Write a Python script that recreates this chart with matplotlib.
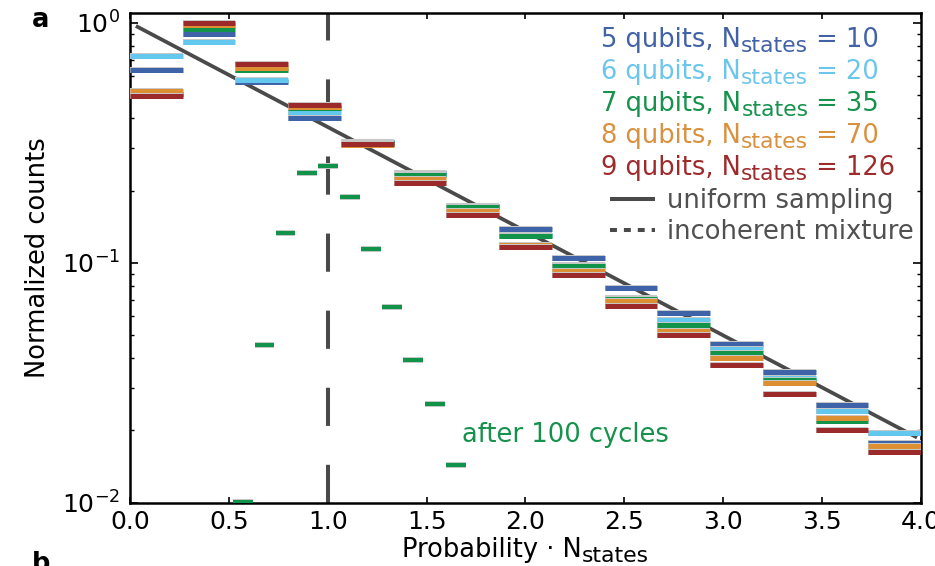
import matplotlib
matplotlib.use("Agg")
import matplotlib.pyplot as plt
import matplotlib.patheffects as pe
import matplotlib.transforms as mtransforms
from matplotlib.lines import Line2D
import numpy as np

# histogram bins (15 bins between 0 and 4)
bin_edges = np.linspace(0.0, 4.0, 16)

series_labels = ["5 qubits", "6 qubits", "7 qubits", "8 qubits", "9 qubits"]
n_states = [10, 20, 35, 70, 126]
series_colors = ["#3f63a8", "#63c7ee", "#12934a", "#dc8f33", "#9d2a2b"]
text_colors = ["#4262a6", "#6cc6ec", "#16924c", "#d8913f", "#9e2b2c"]

counts_5 = [0.636, 0.902, 0.564, 0.401, 0.318, 0.237, 0.173, 0.138, 0.105, 0.0788, 0.0616, 0.0459, 0.0351, 0.0255, 0.0178]
counts_6 = [0.726, 0.835, 0.576, 0.425, 0.317, 0.234, 0.172, 0.130, 0.098, 0.0710, 0.0580, 0.0437, 0.0330, 0.0241, 0.0195]
counts_7 = [0.505, 0.946, 0.634, 0.440, 0.315, 0.231, 0.170, 0.129, 0.0966, 0.0703, 0.0549, 0.0421, 0.0325, 0.0220, 0.0168]
counts_8 = [0.519, 0.976, 0.649, 0.445, 0.310, 0.224, 0.165, 0.119, 0.0926, 0.0692, 0.0520, 0.0401, 0.0314, 0.0226, 0.0173]
counts_9 = [0.494, 0.997, 0.676, 0.453, 0.313, 0.215, 0.158, 0.116, 0.0885, 0.0663, 0.0502, 0.0375, 0.0283, 0.0200, 0.0163]
all_counts = [counts_5, counts_6, counts_7, counts_8, counts_9]

# 7 qubits after 100 cycles
cycles_x = [0.573, 0.680, 0.787, 0.895, 1.003, 1.111, 1.218, 1.326, 1.433, 1.542, 1.650]
cycles_y = [0.0101, 0.0454, 0.1334, 0.236, 0.254, 0.188, 0.1144, 0.0655, 0.0392, 0.0258, 0.0144]
cycles_width = 0.1

# uniform sampling (straight on log axis) and incoherent mixture
uniform_x = [0.03, 3.98]
uniform_y = [0.97, 0.0187]
mixture_x = 1.0

FS = 18.5
plt.rcParams["font.family"] = ["DejaVu Sans"]
plt.rcParams["font.size"] = FS
plt.rcParams["mathtext.fontset"] = "dejavusans"
plt.rcParams["lines.scale_dashes"] = False

fig = plt.figure(figsize=(9.35, 5.66), dpi=100)
ax = fig.add_axes([0.139, 0.1118, 0.846, 0.865])
ax.set_yscale("log")
renderer = fig.canvas.get_renderer()


def sub_text(x, y, pre, sub, post, color, transform, center=False):
    # text with a large subscript, built from three pieces
    pieces = []
    dx = 0.0
    for s, size, dy in [(pre, FS, 0), (sub, FS * 0.85, -3.6), (post, FS, 0)]:
        tr = transform + mtransforms.ScaledTranslation(dx / fig.dpi, dy / 72, fig.dpi_scale_trans)
        t = fig.text(x, y, s, color=color, fontsize=size, transform=tr, va="baseline", ha="left")
        w = t.get_window_extent(renderer).width if s else 0.0
        pieces.append((t, dy, dx))
        dx += w
    if center:
        for t, dy, x0 in pieces:
            t.set_transform(transform + mtransforms.ScaledTranslation((x0 - dx / 2) / fig.dpi, dy / 72, fig.dpi_scale_trans))
    return pieces


halo = [pe.Stroke(linewidth=4.3, foreground="#c8c8c8"), pe.Normal()]
for counts, color in zip(all_counts, series_colors):
    ax.hlines(counts, bin_edges[:-1], bin_edges[1:], colors=color, linewidth=3.6,
              capstyle="butt", path_effects=halo, zorder=3)

cx = np.array(cycles_x)
ax.hlines(cycles_y, cx - cycles_width / 2, cx + cycles_width / 2, colors="#12934a",
          linewidth=2.9, capstyle="butt", path_effects=halo, zorder=3)

ax.plot(uniform_x, uniform_y, color="#4a4a4a", linewidth=2.7, solid_capstyle="butt", zorder=2)
ax.plot([mixture_x, mixture_x], [0.01, 1.1], color="#4a4a4a", linewidth=2.9,
        linestyle=(0, (27.5, 28.0)), dash_capstyle="butt", zorder=2)

ax.text(1.68, 0.0179, "after 100 cycles", color="#16924c", va="baseline", ha="left")

for i, (lab, n, col) in enumerate(zip(series_labels, n_states, text_colors)):
    sub_text(0.596, 0.931 - i * 0.0656, f"{lab}, N", "states", f" = {n}", col, ax.transAxes)

handles = [
    Line2D([], [], color="#4a4a4a", linewidth=2.9, solid_capstyle="butt"),
    Line2D([], [], color="#4a4a4a", linewidth=2.9, linestyle=(0, (5.0, 5.0)), dash_capstyle="butt"),
]
leg = ax.legend(handles, ["uniform sampling", "incoherent mixture"], loc="upper left",
                bbox_to_anchor=(0.607, 0.643), frameon=False, borderpad=0, borderaxespad=0,
                handlelength=1.75, handletextpad=0.47, labelspacing=0.2, labelcolor="#505050")

ax.set_xlim(0, 4.0)
ax.set_ylim(0.01, 1.097)
ax.set_xticks(np.arange(0, 4.01, 0.5))
ax.xaxis.set_major_formatter(matplotlib.ticker.FormatStrFormatter("%.1f"))
ax.tick_params(which="both", direction="in", top=True, right=True, labelsize=18)
ax.tick_params(axis="x", which="major", length=4.5, width=1.2, pad=5)
ax.tick_params(axis="y", which="major", length=6, width=1.2, pad=7)
ax.tick_params(axis="y", which="minor", length=3, width=1.0)
for sp in ax.spines.values():
    sp.set_linewidth(1.8)

sub_text(0.562, 0.0164, "Probability · N", "states", "", "black", fig.transFigure, center=True)
ax.set_ylabel("Normalized counts")
ax.yaxis.set_label_coords(-0.1, 0.5)

fig.text(0.034, 0.952, "a", fontweight="bold", va="baseline", ha="left")
fig.text(0.034, -0.008, "b", fontweight="bold", va="baseline", ha="left")

fig.savefig("out.png", dpi=100)
